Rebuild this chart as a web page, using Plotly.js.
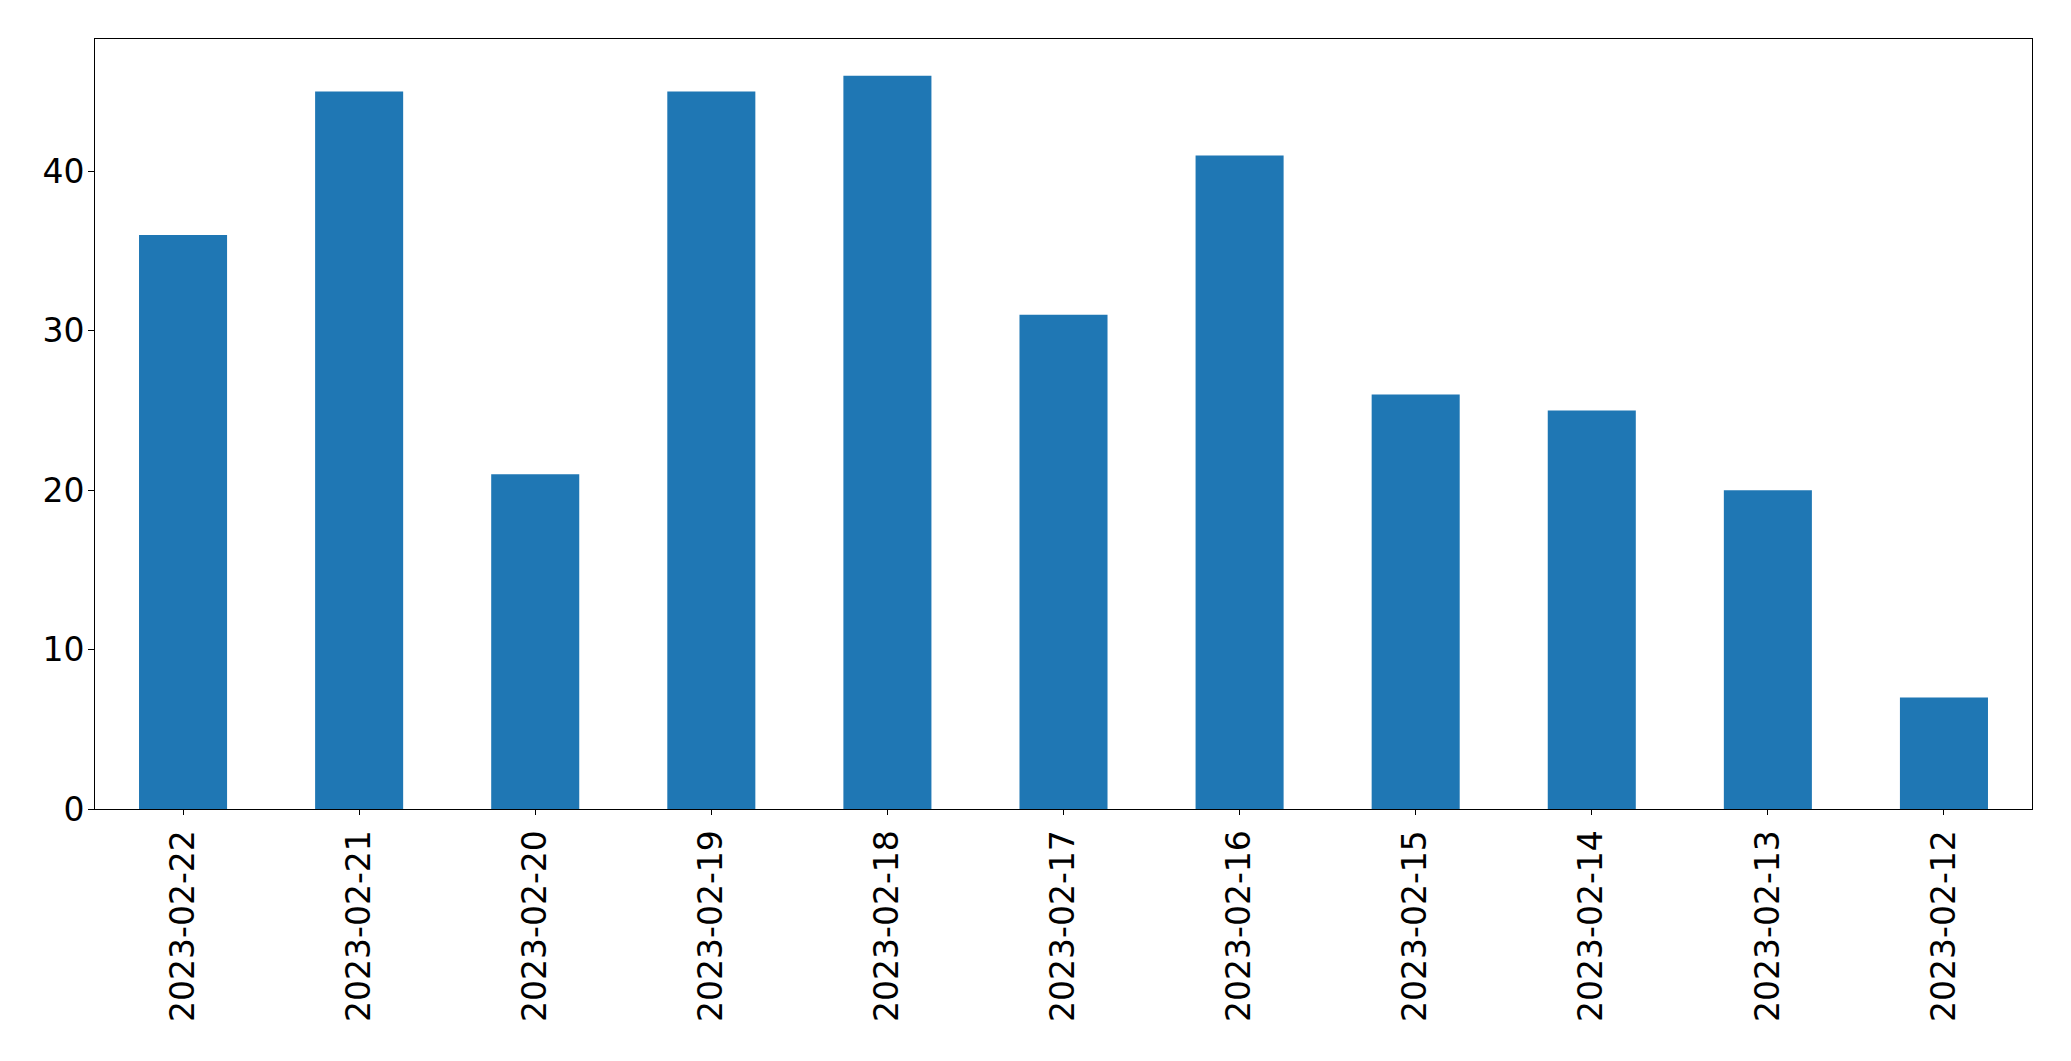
<!DOCTYPE html>
<html>
<head>
<meta charset="utf-8">
<script src="https://cdn.plot.ly/plotly-3.0.1.min.js"></script>
<style>html,body{margin:0;padding:0;background:#fff;}#chart{width:2071px;height:1061px;}</style>
</head>
<body>
<div id="chart"></div>
<script>
const dates = ["2023-02-22","2023-02-21","2023-02-20","2023-02-19","2023-02-18","2023-02-17","2023-02-16","2023-02-15","2023-02-14","2023-02-13","2023-02-12"];
const counts = [36, 45, 21, 45, 46, 31, 41, 26, 25, 20, 7];
const yTicks = [0, 10, 20, 30, 40];

const font = {family: "DejaVu Sans", size: 33, color: "#000"};
Plotly.newPlot("chart", [{
  type: "bar",
  x: dates,
  y: counts,
  width: 0.5,
  marker: {color: "#1f77b4", line: {width: 0}},
  hoverinfo: "x+y"
}], {
  width: 2071, height: 1061,
  margin: {l: 95, r: 39, t: 39, b: 252, pad: 0},
  paper_bgcolor: "#fff", plot_bgcolor: "#fff",
  showlegend: false,
  font: font,
  xaxis: {
    type: "category",
    range: [-0.5, 10.5],
    tickangle: -90,
    ticks: "outside", ticklen: 5, tickwidth: 1, tickcolor: "#000",
    showline: true, linecolor: "#000", linewidth: 1, mirror: true,
    showgrid: false, zeroline: false,
    tickfont: font,
    ticklabelstandoff: 2
  },
  yaxis: {
    range: [0, 48.3],
    tickmode: "array", tickvals: yTicks, ticktext: yTicks.map(String),
    ticks: "outside", ticklen: 6, tickwidth: 1, tickcolor: "#000",
    showline: true, linecolor: "#000", linewidth: 1, mirror: true,
    showgrid: false, zeroline: false,
    tickfont: font,
    ticklabelstandoff: -3
  }
}, {displayModeBar: false, staticPlot: true});
</script>
</body>
</html>
